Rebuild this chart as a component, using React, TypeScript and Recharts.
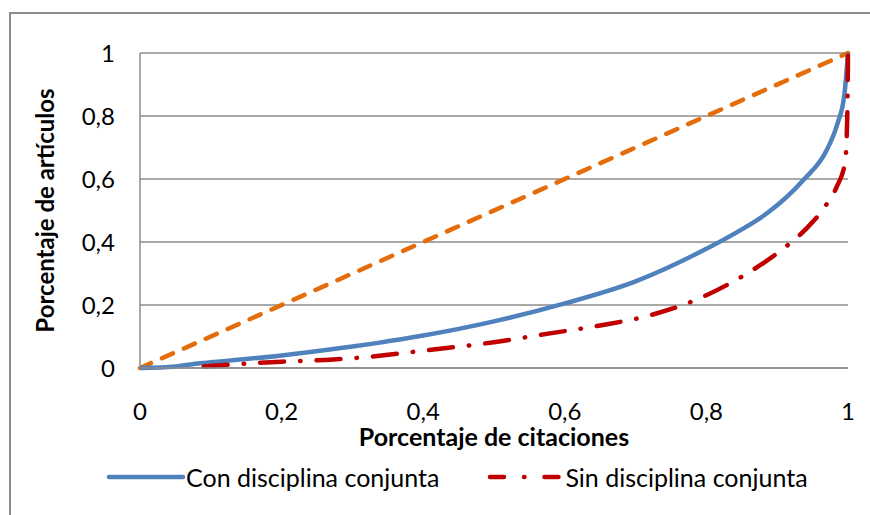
import { LineChart, Line, XAxis, YAxis, CartesianGrid } from "recharts";

// x = share of citations, y = share of articles
const conX = [0, 0.05, 0.085, 0.1, 0.2, 0.3, 0.334, 0.4, 0.5, 0.6, 0.7, 0.791, 0.85, 0.886, 0.937, 0.97, 0.985, 0.995, 1];
const conY = [0, 0.005, 0.015, 0.018, 0.04, 0.068, 0.079, 0.103, 0.148, 0.205, 0.275, 0.368, 0.44, 0.492, 0.597, 0.692, 0.775, 0.87, 1];

const sinX = [0.09, 0.2, 0.273, 0.3, 0.4, 0.5, 0.579, 0.65, 0.72, 0.791, 0.85, 0.883, 0.908, 0.94, 0.967, 0.984, 0.996, 0.999, 1];
const sinY = [0.005, 0.02, 0.027, 0.031, 0.055, 0.082, 0.11, 0.135, 0.167, 0.222, 0.29, 0.337, 0.378, 0.44, 0.511, 0.575, 0.654, 0.8, 1];

const equalX = [0, 1];
const equalY = [0, 1];

const ticks = [0, 0.2, 0.4, 0.6, 0.8, 1];

const toPoints = (xs: number[], ys: number[]) => xs.map((x, i) => ({ x, y: ys[i] }));

const conData = toPoints(conX, conY);
const sinData = toPoints(sinX, sinY);
const equalData = toPoints(equalX, equalY);

const font = "Lato, 'Open Sans', sans-serif";
const gray = "#8c8c8c";
const fmt = (v: number) => String(v).replace(".", ",");

export default function App() {
    return (
        <div style={{ position: "absolute", left: 0, top: 0, width: 870, height: 515, background: "#fff", fontFamily: font }}>
            <div
                style={{
                    position: "absolute",
                    left: 9,
                    top: 12,
                    width: 900,
                    height: 600,
                    borderLeft: `2px solid ${gray}`,
                    borderTop: `2px solid ${gray}`,
                }}
            />
            <div style={{ position: "absolute", left: 0, top: 0 }}>
                <LineChart width={870} height={515} margin={{ top: 53, right: 22, bottom: 87, left: 80 }}>
                    <CartesianGrid vertical={false} stroke={gray} strokeWidth={1.5} />
                    <XAxis
                        type="number"
                        dataKey="x"
                        domain={[0, 1]}
                        ticks={ticks}
                        tickFormatter={fmt}
                        tickLine={false}
                        tickSize={0}
                        tickMargin={35}
                        height={60}
                        axisLine={{ stroke: gray, strokeWidth: 1.5 }}
                        tick={{ fill: "#000", fontSize: 24, fontFamily: font }}
                        label={{
                            value: "Porcentaje de citaciones",
                            position: "bottom",
                            offset: 0,
                            fill: "#000",
                            fontSize: 25,
                            fontWeight: 700,
                            fontFamily: font,
                        }}
                    />
                    <YAxis
                        type="number"
                        dataKey="y"
                        domain={[0, 1]}
                        ticks={ticks}
                        tickFormatter={fmt}
                        tickLine={false}
                        tickSize={0}
                        tickMargin={25}
                        width={60}
                        axisLine={{ stroke: gray, strokeWidth: 1.5 }}
                        tick={{ fill: "#000", fontSize: 24, fontFamily: font }}
                        label={{
                            value: "Porcentaje de artículos",
                            angle: -90,
                            position: "left",
                            offset: 35,
                            fill: "#000",
                            fontSize: 24,
                            fontWeight: 700,
                            fontFamily: font,
                            style: { textAnchor: "middle" },
                        }}
                    />
                    <Line
                        data={equalData}
                        dataKey="y"
                        type="linear"
                        stroke="#E46C0A"
                        strokeWidth={4.5}
                        strokeDasharray="12 12"
                        strokeLinecap="round"
                        dot={false}
                        isAnimationActive={false}
                    />
                    <Line
                        data={conData}
                        dataKey="y"
                        type="monotone"
                        stroke="#4F81BD"
                        strokeWidth={4.5}
                        dot={false}
                        isAnimationActive={false}
                    />
                    <Line
                        data={sinData}
                        dataKey="y"
                        type="monotone"
                        stroke="#C00000"
                        strokeWidth={4.5}
                        strokeDasharray="24 16 0.5 16"
                        strokeLinecap="round"
                        dot={false}
                        isAnimationActive={false}
                    />
                </LineChart>
            </div>
            <div
                style={{
                    position: "absolute",
                    left: 106,
                    top: 462,
                    display: "flex",
                    alignItems: "center",
                    fontSize: 25,
                    whiteSpace: "nowrap",
                }}
            >
                <svg width={80} height={28}>
                    <line x1={3} y1={14} x2={77} y2={14} stroke="#4F81BD" strokeWidth={4.5} strokeLinecap="round" />
                </svg>
                <span>Con disciplina conjunta</span>
                <svg width={78} height={28} style={{ marginLeft: 48 }}>
                    <line
                        x1={3}
                        y1={14}
                        x2={75}
                        y2={14}
                        stroke="#C00000"
                        strokeWidth={4.5}
                        strokeDasharray="14 20 0.5 20"
                        strokeLinecap="round"
                    />
                </svg>
                <span>Sin disciplina conjunta</span>
            </div>
        </div>
    );
}
